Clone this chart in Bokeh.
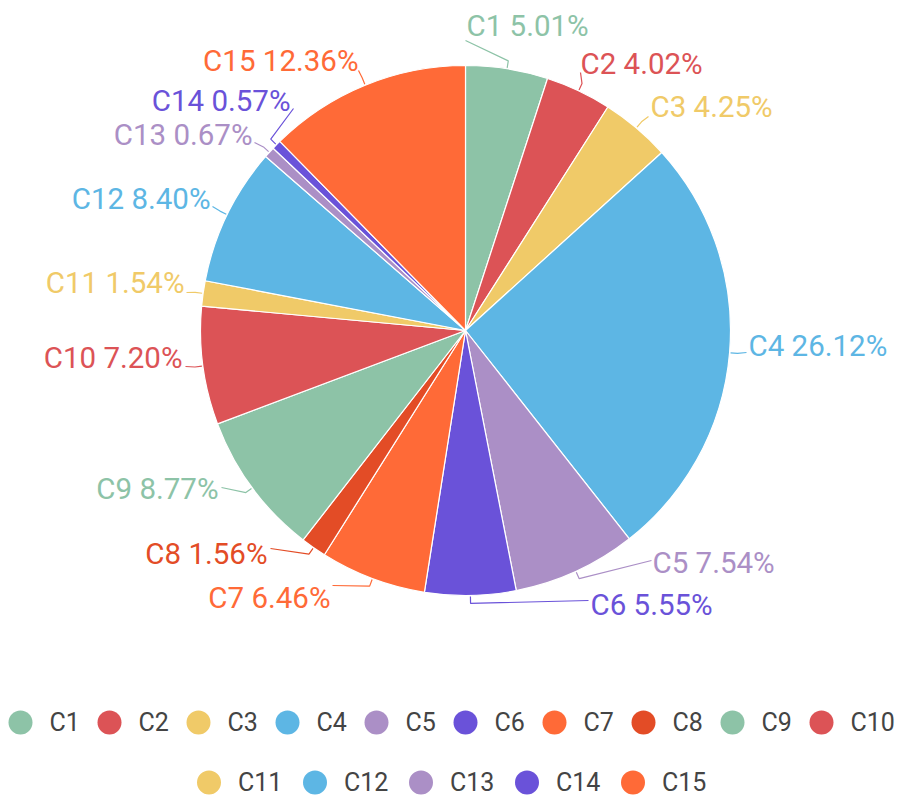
import math
from bokeh.plotting import figure
from bokeh.models import Range1d, ColumnDataSource
from bokeh.embed import file_html
from bokeh.resources import INLINE
from bokeh.core.properties import value

categories = ["C1", "C2", "C3", "C4", "C5", "C6", "C7", "C8", "C9", "C10",
              "C11", "C12", "C13", "C14", "C15"]
shares = [5.01, 4.02, 4.25, 26.12, 7.54, 5.55, 6.46, 1.56, 8.77, 7.20,
          1.54, 8.40, 0.67, 0.57, 12.36]
colors = ["#8dc3a7", "#dc5356", "#f0ca68", "#5db6e4", "#ab8fc6", "#6a52d9",
          "#ff6a37", "#e34c26", "#8dc3a7", "#dc5356", "#f0ca68", "#5db6e4",
          "#ab8fc6", "#6a52d9", "#ff6a37"]

# label layout (screen px): anchor x, centre y, alignment, leader end
label_sx = [466, 580, 650, 748, 652, 590, 330, 267, 218, 182, 184, 210, 252, 290, 358]
label_sy = [25, 63, 106, 345, 562, 604, 597, 553, 488, 357, 282, 198, 134, 100, 60]
label_align = ["left"] * 6 + ["right"] * 9
lead_sx = [465, 580, 648, 746, 651, 588, 332, 270, 221, 185, 186, 212, 254, 293, 358]
lead_sy = [40, 72, 116, 352, 560, 600, 585, 548, 487, 366, 292, 206, 142, 108, 70]

W, H = 906, 796


def dx(sx):
    return sx


def dy(sy):
    return H - sy


p = figure(width=W, height=H, x_range=Range1d(0, W), y_range=Range1d(0, H),
           output_backend="svg", toolbar_location=None, min_border=0)
p.axis.visible = False
p.grid.visible = False
p.outline_line_color = None
p.background_fill_color = "white"

cx, cy, r = dx(465), dy(330), 265
total = sum(shares)
starts, ends, mids = [], [], []
cum = 0.0
for s in shares:
    a0 = math.pi / 2 - 2 * math.pi * (cum + s) / total
    a1 = math.pi / 2 - 2 * math.pi * cum / total
    starts.append(a0)
    ends.append(a1)
    mids.append(math.pi / 2 - 2 * math.pi * (cum + s / 2) / total)
    cum += s

src = ColumnDataSource(dict(x=[cx] * len(shares), y=[cy] * len(shares),
                            start=starts, end=ends, color=colors))
p.wedge(x="x", y="y", radius=r, start_angle="start", end_angle="end",
        direction="anticlock", fill_color="color", line_color="white",
        line_width=1.2, source=src)

# leader lines
xs, ys = [], []
for i, m in enumerate(mids):
    x0 = cx + (r + 1) * math.cos(m)
    y0 = cy + (r + 1) * math.sin(m)
    x1 = cx + (r + 8) * math.cos(m)
    y1 = cy + (r + 8) * math.sin(m)
    xs.append([x0, x1, dx(lead_sx[i])])
    ys.append([y0, y1, dy(lead_sy[i])])
p.multi_line(xs=xs, ys=ys, line_color=colors, line_width=1.2)

# slice labels
texts = [f"{c} {v:.2f}%" for c, v in zip(categories, shares)]
lsrc = ColumnDataSource(dict(x=[dx(v) for v in label_sx], y=[dy(v) for v in label_sy],
                             t=texts, color=colors, align=label_align))
p.text(x="x", y="y", text="t", text_color="color", text_align="align",
       text_baseline="middle", text_font=value("Roboto"), text_font_size="29.5px",
       source=lsrc)

# legend (two rows)
rows = [list(range(0, 10)), list(range(10, 15))]
row_sy = [722, 782]
gx, gy, gt = [], [], []
tx, ty = [], []
for row, sy in zip(rows, row_sy):
    widths = []
    for i in row:
        tw = 14 + 17 * (len(categories[i]) - 1)
        widths.append(24 + 17 + tw + 17)
    row_w = sum(widths) - 17
    x = (W - row_w) / 2
    for i, w in zip(row, widths):
        gx.append(x + 12)
        gy.append(dy(sy))
        gt.append(colors[i])
        tx.append(x + 24 + 17)
        ty.append(dy(sy))
        x += w
legend_order = rows[0] + rows[1]
p.scatter(x=gx, y=gy, size=24, marker="circle", fill_color=gt, line_color=None)
p.text(x=tx, y=ty, text=[categories[i] for i in legend_order], text_color="#444444",
       text_align="left", text_baseline="middle", text_font=value("Roboto"),
       text_font_size="25px")

open("out.html", "w").write(file_html(p, INLINE))
